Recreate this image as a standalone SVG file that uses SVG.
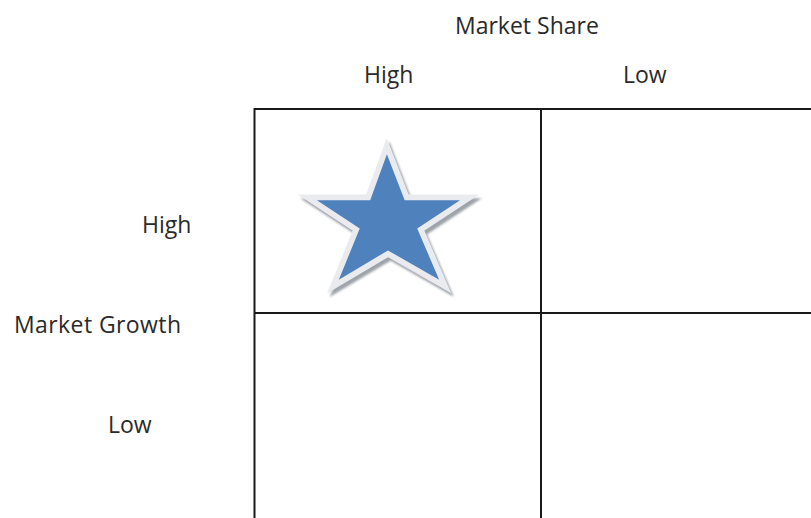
<svg xmlns="http://www.w3.org/2000/svg" width="811" height="518" viewBox="0 0 811 518">
  <style>
    .lbl { font-family: "Open Sans", "Liberation Sans", sans-serif; font-size: 23px; fill: #2a2a2a; }
    .grid { stroke: #1a1a1a; stroke-width: 2; fill: none; }
  </style>
  <defs>
    <polygon id="starShape" points="387,157 404,201 457,201 416,228 437,277 388,249 341,277 361,228 320,201 371,201"/>
    <filter id="soft" x="-20%" y="-20%" width="140%" height="140%">
      <feGaussianBlur stdDeviation="1.2"/>
    </filter>
  </defs>
  <rect width="811" height="518" fill="#ffffff"/>

  <!-- axis labels -->
  <g id="axis-labels">
    <text class="lbl" x="455" y="34">Market Share</text>
    <text class="lbl" x="364" y="83">High</text>
    <text class="lbl" x="623" y="83" font-size="24">Low</text>
    <text class="lbl" x="142" y="233">High</text>
    <text class="lbl" x="14" y="333" textLength="167">Market Growth</text>
    <text class="lbl" x="108" y="433" font-size="24">Low</text>
  </g>

  <!-- quadrant grid -->
  <g id="grid">
    <path class="grid" d="M254.5 518 V109 H811"/>
    <path class="grid" d="M541 109 V518"/>
    <path class="grid" d="M254.5 313 H811"/>
  </g>

  <!-- star in the high/high quadrant: shadow, pale rim, blue face -->
  <g id="star" transform="translate(389,217) scale(1.045) translate(-389,-217)">
    <use href="#starShape" transform="translate(2.5,3.5)" fill="#9ea3aa" stroke="#9ea3aa" stroke-width="11" stroke-miterlimit="10" filter="url(#soft)"/>
    <use href="#starShape" fill="#e9ebee" stroke="#e9ebee" stroke-width="11" stroke-miterlimit="10"/>
    <use href="#starShape" fill="#4f81bd"/>
  </g>
</svg>
